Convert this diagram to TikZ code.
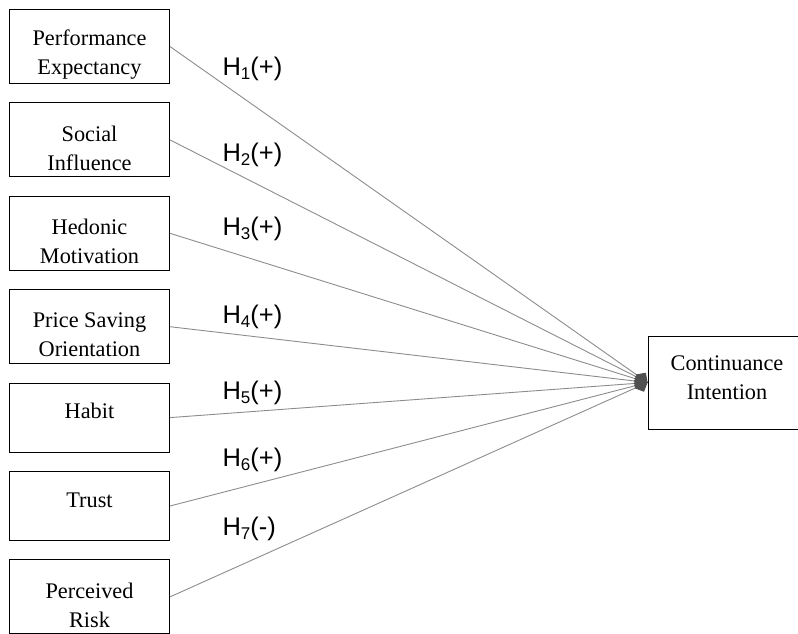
\documentclass[tikz,border=0pt]{standalone}
\usepackage{fontspec}
\setmainfont{Liberation Serif}
\newfontfamily\hypfont{Liberation Sans}
\usetikzlibrary{arrows.meta,positioning}
\definecolor{LineGray}{HTML}{8C8C8C}
\definecolor{TipGray}{HTML}{505050}
\newcommand{\hsub}[1]{\raisebox{-3.5pt}{\fontsize{17}{17}\selectfont #1}}
\newcommand{\boxgap}{\rule{0pt}{31.5pt}}

\begin{document}
\begin{tikzpicture}[
  x=1pt, y=1pt,
  >={Diamond[length=14pt,width=14pt,color=TipGray]},
  node distance=18.5pt,
  every node/.style={font=\fontsize{22.3}{29}\selectfont},
  construct/.style={
    draw=black,
    line width=0.9pt,
    align=center,
    inner sep=2pt,
    minimum width=160pt,
    minimum height=74pt
  },
  hyp/.style={anchor=base west, font=\hypfont\fontsize{25.5}{30}\selectfont},
  link/.style={->, draw=LineGray, line width=0.9pt}
]
\useasboundingbox (0,0) rectangle (798,-633);

% Facteurs
\node[construct] (pe) at (89.5,-46.5) {\boxgap Performance\\Expectancy};
\node[construct, below=of pe] (si) {\boxgap Social\\Influence};
\node[construct, below=of si] (hm) {\boxgap Hedonic\\Motivation};
\node[construct, below=of hm] (ps) {\boxgap Price Saving\\Orientation};
\node[construct, minimum height=69pt, below=of ps] (ha) {\boxgap Habit\\~};
\node[construct, minimum height=69pt, below=of ha] (tr) {\boxgap Trust\\~};
\node[construct, below=of tr] (pr) {\boxgap Perceived\\Risk};

% Variable dépendante
\node[construct, minimum width=158pt, minimum height=93pt] (ci) at (727,-382.5)
  {Continuance\\Intention\rule[-10pt]{0pt}{10pt}};

% Hypothèses
\node[hyp] (h1) at (219,-75.5) {H\hsub{1}(+)};
\node[hyp] (h2) at (219,-161.5) {H\hsub{2}(+)};
\node[hyp] (h3) at (219,-235.5) {H\hsub{3}(+)};
\node[hyp] (h4) at (219,-323.5) {H\hsub{4}(+)};
\node[hyp] (h5) at (219,-399.5) {H\hsub{5}(+)};
\node[hyp] (h6) at (219,-466.5) {H\hsub{6}(+)};
\node[hyp] (h7) at (219,-535.5) {H\hsub{7}(-)};

% Flèches
\draw[link] (pe.east) -- (ci.west);
\draw[link] (si.east) -- (ci.west);
\draw[link] (hm.east) -- (ci.west);
\draw[link] (ps.east) -- (ci.west);
\draw[link] (ha.east) -- (ci.west);
\draw[link] (tr.east) -- (ci.west);
\draw[link] (pr.east) -- (ci.west);
\end{tikzpicture}
\end{document}
